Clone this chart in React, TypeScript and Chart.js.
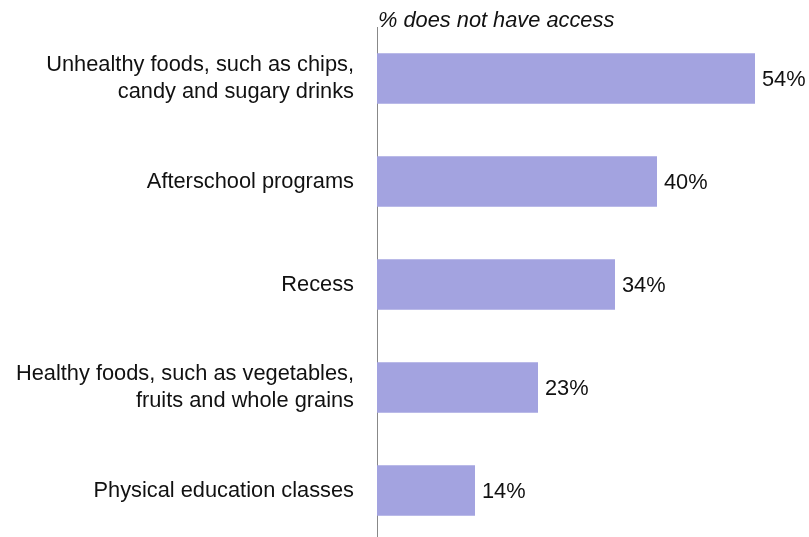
import React, { useEffect, useRef } from "react";
import { Chart, registerables } from "chart.js";

Chart.register(...registerables);

const categories: string[][] = [
  ["Unhealthy foods, such as chips,", "candy and sugary drinks"],
  ["Afterschool programs"],
  ["Recess"],
  ["Healthy foods, such as vegetables,", "fruits and whole grains"],
  ["Physical education classes"],
];
const values: number[] = [54, 40, 34, 23, 14];
const axisTitle = "% does not have access";

const FONT = '"Liberation Sans", Arial, Helvetica, sans-serif';
const FONT_SIZE = 21.8;
const BAR_COLOR = "#A3A3E0";
const TEXT_COLOR = "#111111";

export default function App() {
  const ref = useRef<HTMLCanvasElement | null>(null);

  useEffect(() => {
    if (!ref.current) return;
    const valueLabels = {
      id: "valueLabels",
      afterDatasetsDraw(chart: any) {
        const ctx = chart.ctx;
        const meta = chart.getDatasetMeta(0);
        ctx.save();
        ctx.font = `${FONT_SIZE}px ${FONT}`;
        ctx.fillStyle = TEXT_COLOR;
        ctx.textAlign = "left";
        ctx.textBaseline = "middle";
        meta.data.forEach((bar: any, i: number) => {
          ctx.fillText(`${values[i]}%`, bar.x + 7, bar.y + 1);
        });
        ctx.restore();
      },
    };
    const topTitle = {
      id: "topTitle",
      afterDraw(chart: any) {
        const ctx = chart.ctx;
        ctx.save();
        ctx.font = `italic ${FONT_SIZE}px ${FONT}`;
        ctx.fillStyle = TEXT_COLOR;
        ctx.textAlign = "left";
        ctx.textBaseline = "middle";
        ctx.fillText(axisTitle, chart.chartArea.left + 1, 20.5);
        ctx.restore();
      },
    };
    const chart = new Chart(ref.current, {
      type: "bar",
      data: {
        labels: categories,
        datasets: [
          {
            data: values,
            backgroundColor: BAR_COLOR,
            borderWidth: 0,
            barPercentage: 0.49,
            categoryPercentage: 1,
          },
        ],
      },
      options: {
        indexAxis: "y",
        responsive: true,
        maintainAspectRatio: false,
        animation: false,
        layout: { padding: { top: 27, right: 12, left: 0, bottom: 3 } },
        plugins: {
          legend: { display: false },
          tooltip: { enabled: false },
          title: { display: false },
        },
        scales: {
          x: {
            display: false,
            min: 0,
            max: 60,
          },
          y: {
            type: "category",
            grid: { display: false, drawTicks: false },
            border: { display: true, color: "#888888", width: 1 },
            ticks: {
              color: TEXT_COLOR,
              padding: 23,
              font: { family: FONT, size: FONT_SIZE, lineHeight: 1.2 },
            },
            afterFit(scale: any) {
              scale.width = 377;
              scale.paddingTop = 0;
              scale.paddingBottom = 0;
            },
          },
        },
      },
      plugins: [valueLabels, topTitle],
    });
    return () => chart.destroy();
  }, []);

  return (
    <div
      style={{
        position: "fixed",
        top: 0,
        left: 0,
        width: 809,
        height: 537,
        overflow: "hidden",
        background: "#ffffff",
      }}
    >
      <div style={{ position: "relative", width: 809, height: 545 }}>
        <canvas ref={ref} />
      </div>
    </div>
  );
}
